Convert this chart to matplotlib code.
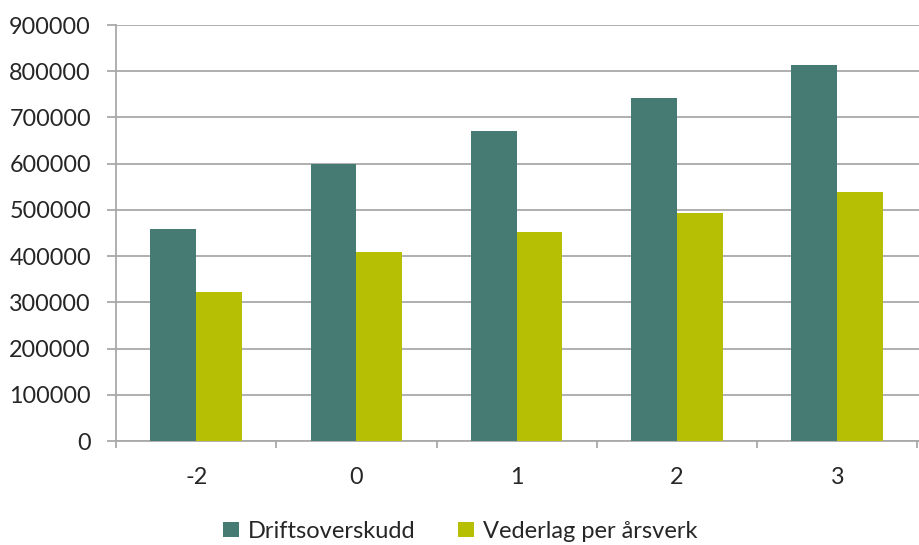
import matplotlib
matplotlib.use("Agg")
import matplotlib.pyplot as plt
import numpy as np

categories = ["-2", "0", "1", "2", "3"]
drift = [458000, 600000, 671000, 742000, 814000]
vederlag = [322000, 409000, 453000, 494000, 539000]
series_names = ["Driftsoverskudd", "Vederlag per årsverk"]
colors = ["#457B73", "#B7BF05"]

plt.rcParams['font.family'] = ['Lato', 'DejaVu Sans']

fig = plt.figure(figsize=(9.19, 5.45), dpi=100)
ax = fig.add_axes([116/919, 1-441/545, 1-116/919, (441-25)/545])

x = np.arange(len(categories))
w = 46/161
ax.bar(x - w/2, drift, width=w, color=colors[0], label=series_names[0], zorder=3)
ax.bar(x + w/2, vederlag, width=w, color=colors[1], label=series_names[1], zorder=3)

ax.set_xlim(-0.5, len(categories) - 0.5 + 0.01)
ax.set_ylim(0, 900000)
ax.set_yticks(np.arange(0, 900001, 100000))
ax.set_yticklabels([str(v) for v in range(0, 900001, 100000)], fontsize=16.8, color="#262626")
ax.grid(axis='y', color="#A9A9A9", linewidth=1.3, zorder=0)
ax.tick_params(axis='y', length=6.5, width=1.3, color="#A9A9A9", pad=11.5)

ax.set_xticks(np.arange(-0.5, len(categories), 1.0))
ax.set_xticklabels([])
ax.set_xticks(x, minor=True)
ax.set_xticklabels(categories, minor=True, fontsize=16.8, color="#262626")
ax.tick_params(axis='x', which='major', length=5, width=1.3, color="#A9A9A9", direction='out')
ax.tick_params(axis='x', which='minor', length=0, pad=19)

for s in ['top', 'right']:
    ax.spines[s].set_visible(False)
for s in ['left', 'bottom']:
    ax.spines[s].set_color("#A9A9A9")
    ax.spines[s].set_linewidth(1.3)

fig.legend(loc='lower center', bbox_to_anchor=(0.501, -0.033), ncol=2, frameon=False,
           fontsize=17, handlelength=0.65, handleheight=0.65, columnspacing=1.8,
           handletextpad=0.4, labelcolor="#262626")

fig.savefig("out.png", dpi=100)
